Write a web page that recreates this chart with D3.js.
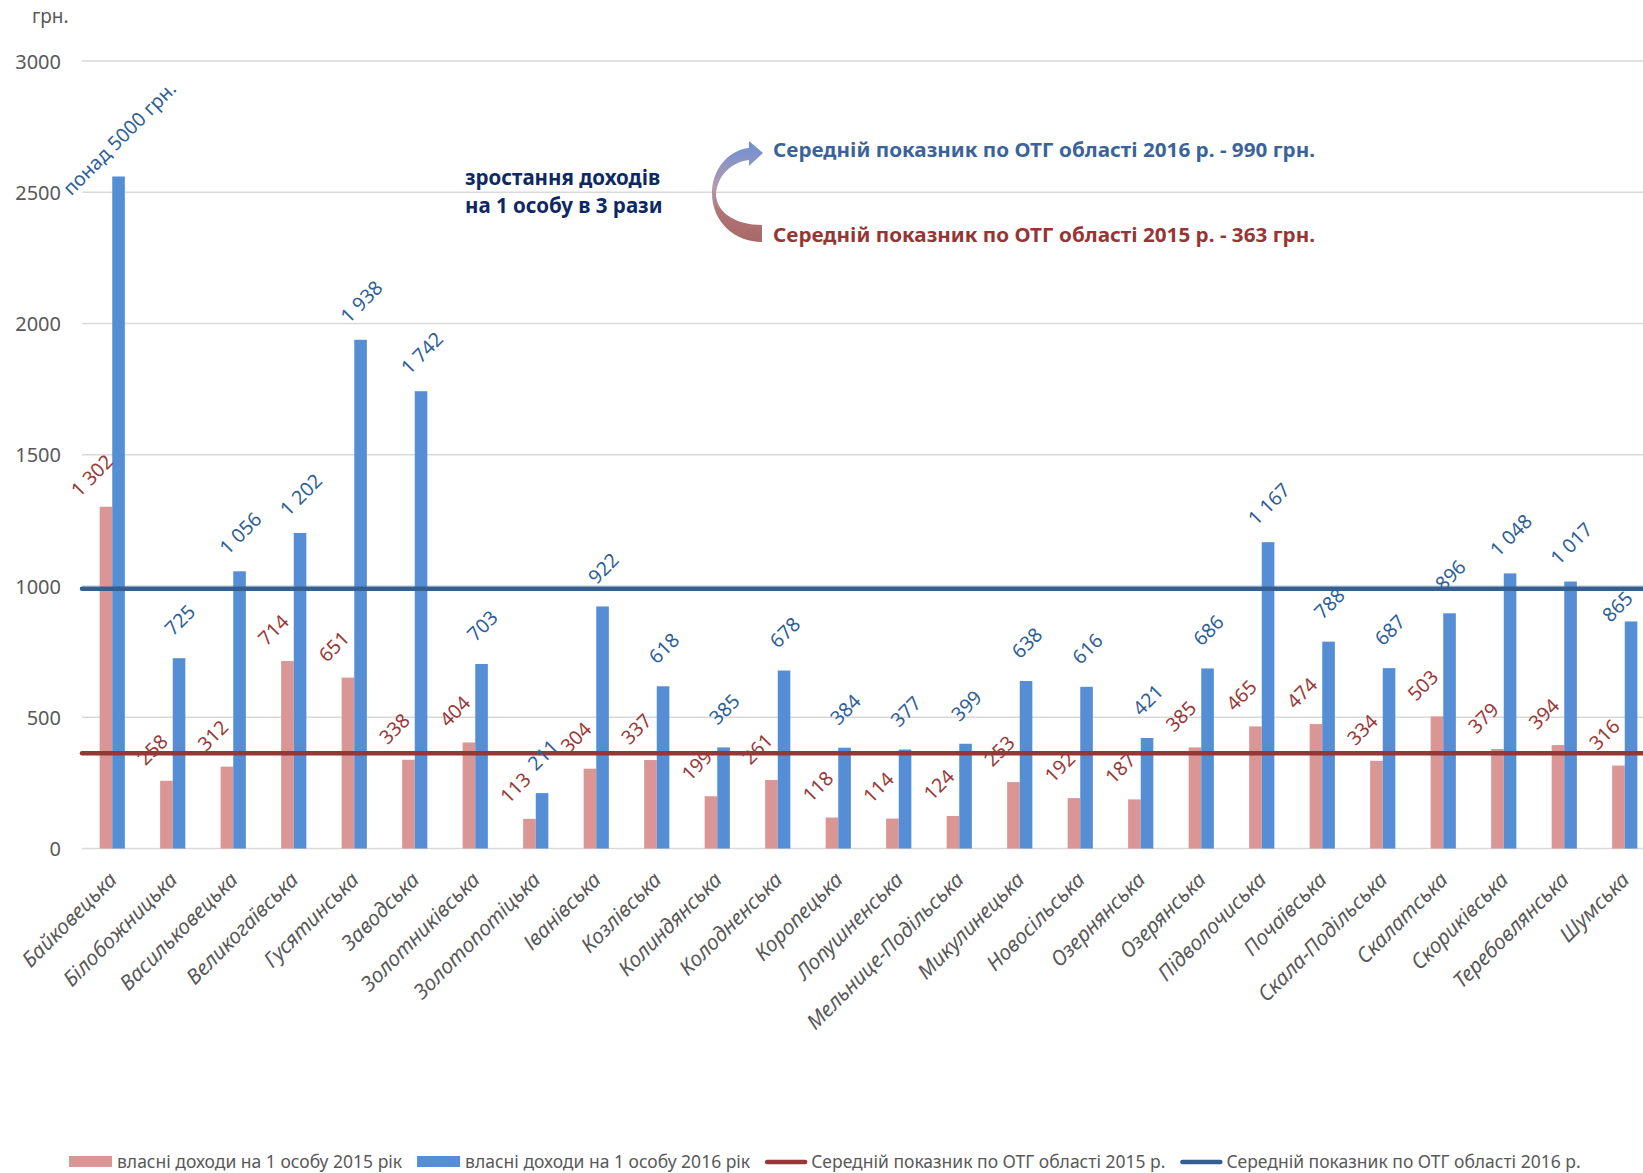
<!DOCTYPE html>
<html>
<head>
<meta charset="utf-8">
<script src="https://cdn.jsdelivr.net/npm/d3@7"></script>
<style>
  html, body { margin: 0; padding: 0; background: #fff; }
  svg { display: block; font-family: "Noto Sans", "Open Sans", sans-serif; }
</style>
</head>
<body>
<svg id="chart" width="1643" height="1173"></svg>
<script>
// ---------- DATA ----------
const categories = ["Байковецька","Білобожницька","Васильковецька","Великогаївська","Гусятинська","Заводська","Золотниківська","Золотопотіцька","Іванівська","Козлівська","Колиндянська","Колодненська","Коропецька","Лопушненська","Мельнице-Подільська","Микулинецька","Новосільська","Озернянська","Озерянська","Підволочиська","Почаївська","Скала-Подільська","Скалатська","Скориківська","Теребовлянська","Шумська"];
const income2015 = [1302,258,312,714,651,338,404,113,304,337,199,261,118,114,124,253,192,187,385,465,474,334,503,379,394,316];
// first 2016 bar is drawn truncated (actual value over 5000)
const income2016 = [2560,725,1056,1202,1938,1742,703,211,922,618,385,678,384,377,399,638,616,421,686,1167,788,687,896,1048,1017,865];
const labelOverrides2016 = {0: "понад 5000 грн."};
const avg2015 = 363;
const avg2016 = 990;
const yTicks = [0,500,1000,1500,2000,2500,3000];
const seriesNames = ["власні доходи на 1 особу 2015 рік","власні доходи на 1 особу 2016 рік","Середній показник по ОТГ області 2015 р.","Середній показник по ОТГ області 2016 р."];
const noteGrowth = ["зростання доходів","на 1 особу в 3 рази"];
const note2016 = "Середній показник по ОТГ області 2016 р. - 990 грн.";
const note2015 = "Середній показник по ОТГ області 2015 р. - 363 грн.";
const unitLabel = "грн.";

// ---------- STYLE ----------
const C = {
  pink: "#D99694", blue: "#558ED5",
  red: "#953735", navyLine: "#335F93",
  redLabel: "#983A38", blueLabel: "#2F5F97",
  grid: "#D9D9D9", axisText: "#595959", growth: "#0E2864"
};

const svg = d3.select("#chart");
const W = 1643, H = 1173;
const plot = {left: 82, right: 82 + 26 * 60.5, top: 61, bottom: 848.5};

const x = d3.scaleBand().domain(categories).range([plot.left, plot.right]).paddingInner(0).paddingOuter(0);
const y = d3.scaleLinear().domain([0, 3000]).range([plot.bottom, plot.top]);
const barW = 12.6;
const fmt = d3.formatLocale({decimal: ",", thousands: " ", grouping: [3], currency: ["", ""]}).format(",d");

// gridlines
svg.append("g").selectAll("line").data(yTicks).join("line")
  .attr("x1", plot.left).attr("x2", W)
  .attr("y1", d => y(d)).attr("y2", d => y(d))
  .attr("stroke", C.grid).attr("stroke-width", 1.6);

// y axis labels
const yAxis = d3.axisLeft(y).tickValues(yTicks).tickSize(0).tickPadding(0).tickFormat(d3.format("d"));
const yg = svg.append("g").attr("transform", "translate(61,0)").call(yAxis);
yg.select(".domain").remove();
yg.selectAll("text").attr("font-size", 20).attr("fill", C.axisText)
  .attr("font-family", "Noto Sans, sans-serif").attr("dy", "0.35em");

svg.append("text").attr("x", 32).attr("y", 23).attr("font-size", 19).attr("fill", C.axisText).text(unitLabel);

// bars
const bars = svg.append("g");
bars.selectAll("rect.b15").data(income2015).join("rect")
  .attr("x", (d, i) => x(categories[i]) + x.bandwidth() / 2 - barW)
  .attr("y", d => y(d)).attr("width", barW).attr("height", d => y(0) - y(d))
  .attr("fill", C.pink);
bars.selectAll("rect.b16").data(income2016).join("rect")
  .attr("x", (d, i) => x(categories[i]) + x.bandwidth() / 2)
  .attr("y", d => y(d)).attr("width", barW).attr("height", d => y(0) - y(d))
  .attr("fill", C.blue);

// average lines
function avgLine(v, color) {
  svg.append("line").attr("x1", plot.left).attr("x2", plot.right)
    .attr("y1", y(v)).attr("y2", y(v))
    .attr("stroke", color).attr("stroke-width", 4.5).attr("stroke-linecap", "round");
}
avgLine(avg2015, C.red);
avgLine(avg2016, C.navyLine);

// data labels (rotated -45), centred a fixed distance above the bar top
const labelFs = 19.5;
function addLabels(values, color, dx, lift, overrides) {
  const g = svg.append("g");
  values.forEach((v, i) => {
    const txt = (overrides && overrides[i]) ? overrides[i] : fmt(v);
    const t = g.append("text").attr("font-size", labelFs).attr("fill", color)
      .attr("text-anchor", "middle").attr("dy", "0.35em").text(txt);
    const L = t.node().getComputedTextLength();
    const half = (L + labelFs * 1.1) * Math.SQRT1_2 / 2;
    let cx = x(categories[i]) + x.bandwidth() / 2 + dx;
    let cy = y(v) - lift;
    const maxX = W - 6 - half;             // keep inside the chart area
    if (cx > maxX) { cy += (cx - maxX) * 1.6; cx = maxX; }
    t.attr("transform", `translate(${cx},${cy}) rotate(-45)`);
  });
}
addLabels(income2015, C.redLabel, -barW / 2 - 14, 31, null);
addLabels(income2016, C.blueLabel, barW / 2 + 1, 38, labelOverrides2016);

// category labels
svg.append("g").selectAll("text").data(categories).join("text")
  .attr("text-anchor", "end").attr("font-size", 21).attr("font-style", "italic")
  .attr("fill", C.axisText)
  .attr("transform", d => `translate(${x(d) + x.bandwidth() / 2 + 6},${881}) rotate(-45)`)
  .text(d => d);

// annotations
svg.append("g").selectAll("text").data(noteGrowth).join("text")
  .attr("x", 465).attr("y", (d, i) => 185 + i * 28)
  .attr("font-size", 20.5).attr("font-weight", "bold").attr("fill", C.growth)
  .text(d => d);

svg.append("text").attr("x", 773).attr("y", 157).attr("font-size", 19).attr("font-weight", "bold")
  .attr("fill", "#3A6499").attr("textLength", 542).attr("lengthAdjust", "spacingAndGlyphs").text(note2016);
svg.append("text").attr("x", 773).attr("y", 242).attr("font-size", 19).attr("font-weight", "bold")
  .attr("fill", "#963634").attr("textLength", 542).attr("lengthAdjust", "spacingAndGlyphs").text(note2015);

// curved arrow with gradient
const defs = svg.append("defs");
const grad = defs.append("linearGradient").attr("id", "arrowGrad").attr("x1", 0).attr("y1", 0).attr("x2", 0).attr("y2", 1);
grad.append("stop").attr("offset", "0%").attr("stop-color", "#6A8FD6");
grad.append("stop").attr("offset", "45%").attr("stop-color", "#B49AB0");
grad.append("stop").attr("offset", "70%").attr("stop-color", "#B07478");
grad.append("stop").attr("offset", "100%").attr("stop-color", "#A86866");
svg.append("path")
  .attr("d", "M762,242 C735,242 712,222 712,193 C712,170 728,150 749,148 L749,141 L763,153 L749,166 L749,160 C731,162 717,176 716,195 C717,213 736,225 762,225 Z")
  .attr("fill", "url(#arrowGrad)");

// legend
const legendY = 1162;
const lg = svg.append("g");
let lx = 69;
seriesNames.forEach((name, i) => {
  if (i < 2) {
    lg.append("rect").attr("x", lx).attr("y", legendY - 6).attr("width", 43).attr("height", 11)
      .attr("fill", i === 0 ? C.pink : C.blue);
    lx += 48;
  } else {
    lg.append("line").attr("x1", lx + 2).attr("x2", lx + 40).attr("y1", legendY).attr("y2", legendY)
      .attr("stroke", i === 2 ? C.red : C.navyLine).attr("stroke-width", 4.5).attr("stroke-linecap", "round");
    lx += 46;
  }
  const t = lg.append("text").attr("x", lx).attr("y", legendY).attr("dy", "0.35em")
    .attr("font-size", 17.5).attr("fill", C.axisText).text(name);
  lx += t.node().getComputedTextLength() + 15;
});
</script>
</body>
</html>
